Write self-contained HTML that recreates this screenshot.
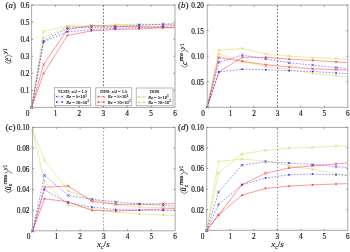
<!DOCTYPE html>
<html><head><meta charset="utf-8"><style>
html,body{margin:0;padding:0;background:#fff;width:350px;height:252px;overflow:hidden}
svg{display:block;filter:blur(0.3px)}
text{font-family:"Liberation Serif",serif;fill:#151515;stroke:#151515;stroke-width:0.15px}
text.lg{stroke-width:0.12px}
</style></head><body>
<svg width="350" height="252" viewBox="0 0 350 252">
<polyline points="31.6,107.4 43.55,38 67.45,26.5 91.35,26.5 115.25,25.4 139.15,25 163.05,24.8 175,24.7" fill="none" stroke="#d4d456" stroke-width="0.5"/>
<rect x="30.8" y="106.6" width="1.6" height="1.6" fill="#d4d456"/>
<rect x="42.75" y="37.2" width="1.6" height="1.6" fill="#d4d456"/>
<rect x="66.65" y="25.7" width="1.6" height="1.6" fill="#d4d456"/>
<rect x="90.55" y="25.7" width="1.6" height="1.6" fill="#d4d456"/>
<rect x="114.45" y="24.6" width="1.6" height="1.6" fill="#d4d456"/>
<rect x="138.35" y="24.2" width="1.6" height="1.6" fill="#d4d456"/>
<rect x="162.25" y="24" width="1.6" height="1.6" fill="#d4d456"/>
<polyline points="31.6,107.4 43.55,31.4 67.45,25.8 91.35,26.1 115.25,24.6 139.15,24.2 163.05,24.2 175,24.2" fill="none" stroke="#d4d456" stroke-width="0.5"/>
<path d="M30.4 106.2L32.8 108.6M30.4 108.6L32.8 106.2" stroke="#d4d456" stroke-width="0.7" fill="none"/>
<path d="M42.35 30.2L44.75 32.6M42.35 32.6L44.75 30.2" stroke="#d4d456" stroke-width="0.7" fill="none"/>
<path d="M66.25 24.6L68.65 27M66.25 27L68.65 24.6" stroke="#d4d456" stroke-width="0.7" fill="none"/>
<path d="M90.15 24.9L92.55 27.3M90.15 27.3L92.55 24.9" stroke="#d4d456" stroke-width="0.7" fill="none"/>
<path d="M114.05 23.4L116.45 25.8M114.05 25.8L116.45 23.4" stroke="#d4d456" stroke-width="0.7" fill="none"/>
<path d="M137.95 23L140.35 25.4M137.95 25.4L140.35 23" stroke="#d4d456" stroke-width="0.7" fill="none"/>
<path d="M161.85 23L164.25 25.4M161.85 25.4L164.25 23" stroke="#d4d456" stroke-width="0.7" fill="none"/>
<polyline points="31.6,107.4 43.55,73.5 67.45,35.4 91.35,30.9 115.25,29.5 139.15,29 163.05,27.7 175,27.05" fill="none" stroke="#ff3030" stroke-width="0.5"/>
<rect x="30.8" y="106.6" width="1.6" height="1.6" fill="#ff3030"/>
<rect x="42.75" y="72.7" width="1.6" height="1.6" fill="#ff3030"/>
<rect x="66.65" y="34.6" width="1.6" height="1.6" fill="#ff3030"/>
<rect x="90.55" y="30.1" width="1.6" height="1.6" fill="#ff3030"/>
<rect x="114.45" y="28.7" width="1.6" height="1.6" fill="#ff3030"/>
<rect x="138.35" y="28.2" width="1.6" height="1.6" fill="#ff3030"/>
<rect x="162.25" y="26.9" width="1.6" height="1.6" fill="#ff3030"/>
<polyline points="31.6,107.4 43.55,64.5 67.45,29.4 91.35,25.6 115.25,26.3 139.15,26.5 163.05,27.5 175,28" fill="none" stroke="#ff3030" stroke-width="0.5"/>
<path d="M30.4 106.2L32.8 108.6M30.4 108.6L32.8 106.2" stroke="#ff3030" stroke-width="0.7" fill="none"/>
<path d="M42.35 63.3L44.75 65.7M42.35 65.7L44.75 63.3" stroke="#ff3030" stroke-width="0.7" fill="none"/>
<path d="M66.25 28.2L68.65 30.6M66.25 30.6L68.65 28.2" stroke="#ff3030" stroke-width="0.7" fill="none"/>
<path d="M90.15 24.4L92.55 26.8M90.15 26.8L92.55 24.4" stroke="#ff3030" stroke-width="0.7" fill="none"/>
<path d="M114.05 25.1L116.45 27.5M114.05 27.5L116.45 25.1" stroke="#ff3030" stroke-width="0.7" fill="none"/>
<path d="M137.95 25.3L140.35 27.7M137.95 27.7L140.35 25.3" stroke="#ff3030" stroke-width="0.7" fill="none"/>
<path d="M161.85 26.3L164.25 28.7M161.85 28.7L164.25 26.3" stroke="#ff3030" stroke-width="0.7" fill="none"/>
<polyline points="31.6,107.4 43.55,42 67.45,31.8 91.35,29.6 115.25,28.3 139.15,27.7 163.05,26.3 175,25.6" fill="none" stroke="#2626ff" stroke-width="0.5" stroke-dasharray="1.7 1.5"/>
<rect x="30.8" y="106.6" width="1.6" height="1.6" fill="#2626ff"/>
<rect x="42.75" y="41.2" width="1.6" height="1.6" fill="#2626ff"/>
<rect x="66.65" y="31" width="1.6" height="1.6" fill="#2626ff"/>
<rect x="90.55" y="28.8" width="1.6" height="1.6" fill="#2626ff"/>
<rect x="114.45" y="27.5" width="1.6" height="1.6" fill="#2626ff"/>
<rect x="138.35" y="26.9" width="1.6" height="1.6" fill="#2626ff"/>
<rect x="162.25" y="25.5" width="1.6" height="1.6" fill="#2626ff"/>
<polyline points="31.6,107.4 43.55,41.1 67.45,28 91.35,27.5 115.25,27.1 139.15,25.1 163.05,24.2 175,23.75" fill="none" stroke="#2626ff" stroke-width="0.5" stroke-dasharray="1.7 1.5"/>
<path d="M30.4 106.2L32.8 108.6M30.4 108.6L32.8 106.2" stroke="#2626ff" stroke-width="0.7" fill="none"/>
<path d="M42.35 39.9L44.75 42.3M42.35 42.3L44.75 39.9" stroke="#2626ff" stroke-width="0.7" fill="none"/>
<path d="M66.25 26.8L68.65 29.2M66.25 29.2L68.65 26.8" stroke="#2626ff" stroke-width="0.7" fill="none"/>
<path d="M90.15 26.3L92.55 28.7M90.15 28.7L92.55 26.3" stroke="#2626ff" stroke-width="0.7" fill="none"/>
<path d="M114.05 25.9L116.45 28.3M114.05 28.3L116.45 25.9" stroke="#2626ff" stroke-width="0.7" fill="none"/>
<path d="M137.95 23.9L140.35 26.3M137.95 26.3L140.35 23.9" stroke="#2626ff" stroke-width="0.7" fill="none"/>
<path d="M161.85 23L164.25 25.4M161.85 25.4L164.25 23" stroke="#2626ff" stroke-width="0.7" fill="none"/>
<line x1="103.5" y1="5.1" x2="103.5" y2="107.4" stroke="#606060" stroke-width="0.9" stroke-dasharray="1.6 1.85" stroke-dashoffset="0"/>
<rect x="31.6" y="5.1" width="143.4" height="102.3" fill="none" stroke="#a8a8a8" stroke-width="1"/>
<line x1="55.5" y1="107.4" x2="55.5" y2="105.9" stroke="#666" stroke-width="0.7"/>
<line x1="55.5" y1="5.1" x2="55.5" y2="6.6" stroke="#666" stroke-width="0.7"/>
<line x1="79.4" y1="107.4" x2="79.4" y2="105.9" stroke="#666" stroke-width="0.7"/>
<line x1="79.4" y1="5.1" x2="79.4" y2="6.6" stroke="#666" stroke-width="0.7"/>
<line x1="103.3" y1="107.4" x2="103.3" y2="105.9" stroke="#666" stroke-width="0.7"/>
<line x1="103.3" y1="5.1" x2="103.3" y2="6.6" stroke="#666" stroke-width="0.7"/>
<line x1="127.2" y1="107.4" x2="127.2" y2="105.9" stroke="#666" stroke-width="0.7"/>
<line x1="127.2" y1="5.1" x2="127.2" y2="6.6" stroke="#666" stroke-width="0.7"/>
<line x1="151.1" y1="107.4" x2="151.1" y2="105.9" stroke="#666" stroke-width="0.7"/>
<line x1="151.1" y1="5.1" x2="151.1" y2="6.6" stroke="#666" stroke-width="0.7"/>
<line x1="31.6" y1="90.35" x2="33.1" y2="90.35" stroke="#666" stroke-width="0.7"/>
<line x1="175" y1="90.35" x2="173.5" y2="90.35" stroke="#666" stroke-width="0.7"/>
<text x="29.5" y="93.25" font-size="7.3" text-anchor="end">0.1</text>
<line x1="31.6" y1="73.3" x2="33.1" y2="73.3" stroke="#666" stroke-width="0.7"/>
<line x1="175" y1="73.3" x2="173.5" y2="73.3" stroke="#666" stroke-width="0.7"/>
<text x="29.5" y="76.2" font-size="7.3" text-anchor="end">0.2</text>
<line x1="31.6" y1="56.25" x2="33.1" y2="56.25" stroke="#666" stroke-width="0.7"/>
<line x1="175" y1="56.25" x2="173.5" y2="56.25" stroke="#666" stroke-width="0.7"/>
<text x="29.5" y="59.15" font-size="7.3" text-anchor="end">0.3</text>
<line x1="31.6" y1="39.2" x2="33.1" y2="39.2" stroke="#666" stroke-width="0.7"/>
<line x1="175" y1="39.2" x2="173.5" y2="39.2" stroke="#666" stroke-width="0.7"/>
<text x="29.5" y="42.1" font-size="7.3" text-anchor="end">0.4</text>
<line x1="31.6" y1="22.15" x2="33.1" y2="22.15" stroke="#666" stroke-width="0.7"/>
<line x1="175" y1="22.15" x2="173.5" y2="22.15" stroke="#666" stroke-width="0.7"/>
<text x="29.5" y="25.05" font-size="7.3" text-anchor="end">0.5</text>
<line x1="31.6" y1="5.1" x2="33.1" y2="5.1" stroke="#666" stroke-width="0.7"/>
<line x1="175" y1="5.1" x2="173.5" y2="5.1" stroke="#666" stroke-width="0.7"/>
<text x="29.5" y="8" font-size="7.3" text-anchor="end">0.6</text>
<text x="55.5" y="115.6" font-size="7.3" text-anchor="middle">1</text>
<text x="79.4" y="115.6" font-size="7.3" text-anchor="middle">2</text>
<text x="103.3" y="115.6" font-size="7.3" text-anchor="middle">3</text>
<text x="127.2" y="115.6" font-size="7.3" text-anchor="middle">4</text>
<text x="151.1" y="115.6" font-size="7.3" text-anchor="middle">5</text>
<text x="175" y="115.6" font-size="7.3" text-anchor="middle">6</text>
<text x="27.6" y="115.6" font-size="7.3" text-anchor="middle">0</text>
<text x="5.4" y="7.5" font-size="9">(<tspan font-style="italic">a</tspan>)</text>
<polyline points="207.2,107.1 218.92,54 242.35,61.3 265.78,66.5 289.22,69.5 312.65,73.5 336.08,75.7 347.8,76.8" fill="none" stroke="#d4d456" stroke-width="0.5"/>
<rect x="206.4" y="106.3" width="1.6" height="1.6" fill="#d4d456"/>
<rect x="218.12" y="53.2" width="1.6" height="1.6" fill="#d4d456"/>
<rect x="241.55" y="60.5" width="1.6" height="1.6" fill="#d4d456"/>
<rect x="264.98" y="65.7" width="1.6" height="1.6" fill="#d4d456"/>
<rect x="288.42" y="68.7" width="1.6" height="1.6" fill="#d4d456"/>
<rect x="311.85" y="72.7" width="1.6" height="1.6" fill="#d4d456"/>
<rect x="335.28" y="74.9" width="1.6" height="1.6" fill="#d4d456"/>
<polyline points="207.2,107.1 218.92,50.1 242.35,48.6 265.78,54 289.22,56.1 312.65,57.7 336.08,58.6 347.8,59.05" fill="none" stroke="#d4d456" stroke-width="0.5"/>
<path d="M206 105.9L208.4 108.3M206 108.3L208.4 105.9" stroke="#d4d456" stroke-width="0.7" fill="none"/>
<path d="M217.72 48.9L220.12 51.3M217.72 51.3L220.12 48.9" stroke="#d4d456" stroke-width="0.7" fill="none"/>
<path d="M241.15 47.4L243.55 49.8M241.15 49.8L243.55 47.4" stroke="#d4d456" stroke-width="0.7" fill="none"/>
<path d="M264.58 52.8L266.98 55.2M264.58 55.2L266.98 52.8" stroke="#d4d456" stroke-width="0.7" fill="none"/>
<path d="M288.02 54.9L290.42 57.3M288.02 57.3L290.42 54.9" stroke="#d4d456" stroke-width="0.7" fill="none"/>
<path d="M311.45 56.5L313.85 58.9M311.45 58.9L313.85 56.5" stroke="#d4d456" stroke-width="0.7" fill="none"/>
<path d="M334.88 57.4L337.28 59.8M334.88 59.8L337.28 57.4" stroke="#d4d456" stroke-width="0.7" fill="none"/>
<polyline points="207.2,107.1 218.92,72 242.35,57.3 265.78,57.2 289.22,59.2 312.65,60.4 336.08,61.9 347.8,62.65" fill="none" stroke="#ff3030" stroke-width="0.5"/>
<rect x="206.4" y="106.3" width="1.6" height="1.6" fill="#ff3030"/>
<rect x="218.12" y="71.2" width="1.6" height="1.6" fill="#ff3030"/>
<rect x="241.55" y="56.5" width="1.6" height="1.6" fill="#ff3030"/>
<rect x="264.98" y="56.4" width="1.6" height="1.6" fill="#ff3030"/>
<rect x="288.42" y="58.4" width="1.6" height="1.6" fill="#ff3030"/>
<rect x="311.85" y="59.6" width="1.6" height="1.6" fill="#ff3030"/>
<rect x="335.28" y="61.1" width="1.6" height="1.6" fill="#ff3030"/>
<polyline points="207.2,107.1 218.92,57.5 242.35,61.4 265.78,64.7 289.22,67 312.65,68.8 336.08,69.7 347.8,70.15" fill="none" stroke="#ff3030" stroke-width="0.5"/>
<path d="M206 105.9L208.4 108.3M206 108.3L208.4 105.9" stroke="#ff3030" stroke-width="0.7" fill="none"/>
<path d="M217.72 56.3L220.12 58.7M217.72 58.7L220.12 56.3" stroke="#ff3030" stroke-width="0.7" fill="none"/>
<path d="M241.15 60.2L243.55 62.6M241.15 62.6L243.55 60.2" stroke="#ff3030" stroke-width="0.7" fill="none"/>
<path d="M264.58 63.5L266.98 65.9M264.58 65.9L266.98 63.5" stroke="#ff3030" stroke-width="0.7" fill="none"/>
<path d="M288.02 65.8L290.42 68.2M288.02 68.2L290.42 65.8" stroke="#ff3030" stroke-width="0.7" fill="none"/>
<path d="M311.45 67.6L313.85 70M311.45 70L313.85 67.6" stroke="#ff3030" stroke-width="0.7" fill="none"/>
<path d="M334.88 68.5L337.28 70.9M334.88 70.9L337.28 68.5" stroke="#ff3030" stroke-width="0.7" fill="none"/>
<polyline points="207.2,107.1 218.92,71.9 242.35,69.2 265.78,69.7 289.22,70.7 312.65,71.5 336.08,73 347.8,73.75" fill="none" stroke="#2626ff" stroke-width="0.5" stroke-dasharray="1.7 1.5"/>
<rect x="206.4" y="106.3" width="1.6" height="1.6" fill="#2626ff"/>
<rect x="218.12" y="71.1" width="1.6" height="1.6" fill="#2626ff"/>
<rect x="241.55" y="68.4" width="1.6" height="1.6" fill="#2626ff"/>
<rect x="264.98" y="68.9" width="1.6" height="1.6" fill="#2626ff"/>
<rect x="288.42" y="69.9" width="1.6" height="1.6" fill="#2626ff"/>
<rect x="311.85" y="70.7" width="1.6" height="1.6" fill="#2626ff"/>
<rect x="335.28" y="72.2" width="1.6" height="1.6" fill="#2626ff"/>
<polyline points="207.2,107.1 218.92,62.3 242.35,55.2 265.78,58.9 289.22,62.8 312.65,65.1 336.08,67.5 347.8,68.7" fill="none" stroke="#2626ff" stroke-width="0.5" stroke-dasharray="1.7 1.5"/>
<path d="M206 105.9L208.4 108.3M206 108.3L208.4 105.9" stroke="#2626ff" stroke-width="0.7" fill="none"/>
<path d="M217.72 61.1L220.12 63.5M217.72 63.5L220.12 61.1" stroke="#2626ff" stroke-width="0.7" fill="none"/>
<path d="M241.15 54L243.55 56.4M241.15 56.4L243.55 54" stroke="#2626ff" stroke-width="0.7" fill="none"/>
<path d="M264.58 57.7L266.98 60.1M264.58 60.1L266.98 57.7" stroke="#2626ff" stroke-width="0.7" fill="none"/>
<path d="M288.02 61.6L290.42 64M288.02 64L290.42 61.6" stroke="#2626ff" stroke-width="0.7" fill="none"/>
<path d="M311.45 63.9L313.85 66.3M311.45 66.3L313.85 63.9" stroke="#2626ff" stroke-width="0.7" fill="none"/>
<path d="M334.88 66.3L337.28 68.7M334.88 68.7L337.28 66.3" stroke="#2626ff" stroke-width="0.7" fill="none"/>
<line x1="277.5" y1="5.1" x2="277.5" y2="107.3" stroke="#606060" stroke-width="0.9" stroke-dasharray="1.6 1.85" stroke-dashoffset="-0.2"/>
<rect x="207.2" y="5.1" width="140.6" height="102.2" fill="none" stroke="#a8a8a8" stroke-width="1"/>
<line x1="230.63" y1="107.3" x2="230.63" y2="105.8" stroke="#666" stroke-width="0.7"/>
<line x1="230.63" y1="5.1" x2="230.63" y2="6.6" stroke="#666" stroke-width="0.7"/>
<line x1="254.07" y1="107.3" x2="254.07" y2="105.8" stroke="#666" stroke-width="0.7"/>
<line x1="254.07" y1="5.1" x2="254.07" y2="6.6" stroke="#666" stroke-width="0.7"/>
<line x1="277.5" y1="107.3" x2="277.5" y2="105.8" stroke="#666" stroke-width="0.7"/>
<line x1="277.5" y1="5.1" x2="277.5" y2="6.6" stroke="#666" stroke-width="0.7"/>
<line x1="300.93" y1="107.3" x2="300.93" y2="105.8" stroke="#666" stroke-width="0.7"/>
<line x1="300.93" y1="5.1" x2="300.93" y2="6.6" stroke="#666" stroke-width="0.7"/>
<line x1="324.37" y1="107.3" x2="324.37" y2="105.8" stroke="#666" stroke-width="0.7"/>
<line x1="324.37" y1="5.1" x2="324.37" y2="6.6" stroke="#666" stroke-width="0.7"/>
<line x1="207.2" y1="81.75" x2="208.7" y2="81.75" stroke="#666" stroke-width="0.7"/>
<line x1="347.8" y1="81.75" x2="346.3" y2="81.75" stroke="#666" stroke-width="0.7"/>
<text x="204" y="84.65" font-size="7.3" text-anchor="end">0.05</text>
<line x1="207.2" y1="56.2" x2="208.7" y2="56.2" stroke="#666" stroke-width="0.7"/>
<line x1="347.8" y1="56.2" x2="346.3" y2="56.2" stroke="#666" stroke-width="0.7"/>
<text x="204" y="59.1" font-size="7.3" text-anchor="end">0.10</text>
<line x1="207.2" y1="30.65" x2="208.7" y2="30.65" stroke="#666" stroke-width="0.7"/>
<line x1="347.8" y1="30.65" x2="346.3" y2="30.65" stroke="#666" stroke-width="0.7"/>
<text x="204" y="33.55" font-size="7.3" text-anchor="end">0.15</text>
<line x1="207.2" y1="5.1" x2="208.7" y2="5.1" stroke="#666" stroke-width="0.7"/>
<line x1="347.8" y1="5.1" x2="346.3" y2="5.1" stroke="#666" stroke-width="0.7"/>
<text x="204" y="8" font-size="7.3" text-anchor="end">0.20</text>
<text x="230.63" y="115.5" font-size="7.3" text-anchor="middle">1</text>
<text x="254.07" y="115.5" font-size="7.3" text-anchor="middle">2</text>
<text x="277.5" y="115.5" font-size="7.3" text-anchor="middle">3</text>
<text x="300.93" y="115.5" font-size="7.3" text-anchor="middle">4</text>
<text x="324.37" y="115.5" font-size="7.3" text-anchor="middle">5</text>
<text x="347.8" y="115.5" font-size="7.3" text-anchor="middle">6</text>
<text x="203.2" y="115.5" font-size="7.3" text-anchor="middle">0</text>
<text x="178.1" y="7.5" font-size="9">(<tspan font-style="italic">b</tspan>)</text>
<polyline points="32.6,130 44.48,181.7 68.22,205.4 91.97,208.5 115.72,212.1 139.47,214 163.22,215 175.1,215.5" fill="none" stroke="#d4d456" stroke-width="0.5"/>
<rect x="31.8" y="129.2" width="1.6" height="1.6" fill="#d4d456"/>
<rect x="43.68" y="180.9" width="1.6" height="1.6" fill="#d4d456"/>
<rect x="67.42" y="204.6" width="1.6" height="1.6" fill="#d4d456"/>
<rect x="91.17" y="207.7" width="1.6" height="1.6" fill="#d4d456"/>
<rect x="114.92" y="211.3" width="1.6" height="1.6" fill="#d4d456"/>
<rect x="138.67" y="213.2" width="1.6" height="1.6" fill="#d4d456"/>
<rect x="162.42" y="214.2" width="1.6" height="1.6" fill="#d4d456"/>
<polyline points="32.6,130 44.48,160 68.22,191 91.97,199.4 115.72,204.3 139.47,207.2 163.22,207.5 175.1,207.65" fill="none" stroke="#d4d456" stroke-width="0.5"/>
<path d="M31.4 128.8L33.8 131.2M31.4 131.2L33.8 128.8" stroke="#d4d456" stroke-width="0.7" fill="none"/>
<path d="M43.27 158.8L45.68 161.2M43.27 161.2L45.68 158.8" stroke="#d4d456" stroke-width="0.7" fill="none"/>
<path d="M67.02 189.8L69.42 192.2M67.02 192.2L69.42 189.8" stroke="#d4d456" stroke-width="0.7" fill="none"/>
<path d="M90.77 198.2L93.17 200.6M90.77 200.6L93.17 198.2" stroke="#d4d456" stroke-width="0.7" fill="none"/>
<path d="M114.52 203.1L116.92 205.5M114.52 205.5L116.92 203.1" stroke="#d4d456" stroke-width="0.7" fill="none"/>
<path d="M138.28 206L140.67 208.4M138.28 208.4L140.67 206" stroke="#d4d456" stroke-width="0.7" fill="none"/>
<path d="M162.03 206.3L164.42 208.7M162.03 208.7L164.42 206.3" stroke="#d4d456" stroke-width="0.7" fill="none"/>
<polyline points="32.6,231 44.48,198.8 68.22,201.8 91.97,210.4 115.72,211 139.47,210.1 163.22,209 175.1,208.45" fill="none" stroke="#ff3030" stroke-width="0.5"/>
<rect x="31.8" y="230.2" width="1.6" height="1.6" fill="#ff3030"/>
<rect x="43.68" y="198" width="1.6" height="1.6" fill="#ff3030"/>
<rect x="67.42" y="201" width="1.6" height="1.6" fill="#ff3030"/>
<rect x="91.17" y="209.6" width="1.6" height="1.6" fill="#ff3030"/>
<rect x="114.92" y="210.2" width="1.6" height="1.6" fill="#ff3030"/>
<rect x="138.67" y="209.3" width="1.6" height="1.6" fill="#ff3030"/>
<rect x="162.42" y="208.2" width="1.6" height="1.6" fill="#ff3030"/>
<polyline points="32.6,231 44.48,187.2 68.22,186 91.97,201.4 115.72,204.3 139.47,204.3 163.22,203.8 175.1,203.55" fill="none" stroke="#ff3030" stroke-width="0.5"/>
<path d="M31.4 229.8L33.8 232.2M31.4 232.2L33.8 229.8" stroke="#ff3030" stroke-width="0.7" fill="none"/>
<path d="M43.27 186L45.68 188.4M43.27 188.4L45.68 186" stroke="#ff3030" stroke-width="0.7" fill="none"/>
<path d="M67.02 184.8L69.42 187.2M67.02 187.2L69.42 184.8" stroke="#ff3030" stroke-width="0.7" fill="none"/>
<path d="M90.77 200.2L93.17 202.6M90.77 202.6L93.17 200.2" stroke="#ff3030" stroke-width="0.7" fill="none"/>
<path d="M114.52 203.1L116.92 205.5M114.52 205.5L116.92 203.1" stroke="#ff3030" stroke-width="0.7" fill="none"/>
<path d="M138.28 203.1L140.67 205.5M138.28 205.5L140.67 203.1" stroke="#ff3030" stroke-width="0.7" fill="none"/>
<path d="M162.03 202.6L164.42 205M162.03 205L164.42 202.6" stroke="#ff3030" stroke-width="0.7" fill="none"/>
<polyline points="32.6,231 44.48,189.6 68.22,203 91.97,207.1 115.72,209.6 139.47,210.1 163.22,210.4 175.1,210.55" fill="none" stroke="#2626ff" stroke-width="0.5" stroke-dasharray="1.7 1.5"/>
<rect x="31.8" y="230.2" width="1.6" height="1.6" fill="#2626ff"/>
<rect x="43.68" y="188.8" width="1.6" height="1.6" fill="#2626ff"/>
<rect x="67.42" y="202.2" width="1.6" height="1.6" fill="#2626ff"/>
<rect x="91.17" y="206.3" width="1.6" height="1.6" fill="#2626ff"/>
<rect x="114.92" y="208.8" width="1.6" height="1.6" fill="#2626ff"/>
<rect x="138.67" y="209.3" width="1.6" height="1.6" fill="#2626ff"/>
<rect x="162.42" y="209.6" width="1.6" height="1.6" fill="#2626ff"/>
<polyline points="32.6,231 44.48,175.3 68.22,195.5 91.97,199.3 115.72,201.9 139.47,203.8 163.22,205.3 175.1,206.05" fill="none" stroke="#2626ff" stroke-width="0.5" stroke-dasharray="1.7 1.5"/>
<path d="M31.4 229.8L33.8 232.2M31.4 232.2L33.8 229.8" stroke="#2626ff" stroke-width="0.7" fill="none"/>
<path d="M43.27 174.1L45.68 176.5M43.27 176.5L45.68 174.1" stroke="#2626ff" stroke-width="0.7" fill="none"/>
<path d="M67.02 194.3L69.42 196.7M67.02 196.7L69.42 194.3" stroke="#2626ff" stroke-width="0.7" fill="none"/>
<path d="M90.77 198.1L93.17 200.5M90.77 200.5L93.17 198.1" stroke="#2626ff" stroke-width="0.7" fill="none"/>
<path d="M114.52 200.7L116.92 203.1M114.52 203.1L116.92 200.7" stroke="#2626ff" stroke-width="0.7" fill="none"/>
<path d="M138.28 202.6L140.67 205M138.28 205L140.67 202.6" stroke="#2626ff" stroke-width="0.7" fill="none"/>
<path d="M162.03 204.1L164.42 206.5M162.03 206.5L164.42 204.1" stroke="#2626ff" stroke-width="0.7" fill="none"/>
<line x1="103.5" y1="127.4" x2="103.5" y2="230.8" stroke="#9a9a9a" stroke-width="0.9" stroke-dasharray="1.6 1.85" stroke-dashoffset="-0.05"/>
<rect x="32.6" y="127.4" width="142.5" height="103.4" fill="none" stroke="#a8a8a8" stroke-width="1"/>
<line x1="56.35" y1="230.8" x2="56.35" y2="229.3" stroke="#666" stroke-width="0.7"/>
<line x1="56.35" y1="127.4" x2="56.35" y2="128.9" stroke="#666" stroke-width="0.7"/>
<line x1="80.1" y1="230.8" x2="80.1" y2="229.3" stroke="#666" stroke-width="0.7"/>
<line x1="80.1" y1="127.4" x2="80.1" y2="128.9" stroke="#666" stroke-width="0.7"/>
<line x1="103.85" y1="230.8" x2="103.85" y2="229.3" stroke="#666" stroke-width="0.7"/>
<line x1="103.85" y1="127.4" x2="103.85" y2="128.9" stroke="#666" stroke-width="0.7"/>
<line x1="127.6" y1="230.8" x2="127.6" y2="229.3" stroke="#666" stroke-width="0.7"/>
<line x1="127.6" y1="127.4" x2="127.6" y2="128.9" stroke="#666" stroke-width="0.7"/>
<line x1="151.35" y1="230.8" x2="151.35" y2="229.3" stroke="#666" stroke-width="0.7"/>
<line x1="151.35" y1="127.4" x2="151.35" y2="128.9" stroke="#666" stroke-width="0.7"/>
<line x1="32.6" y1="210.12" x2="34.1" y2="210.12" stroke="#666" stroke-width="0.7"/>
<line x1="175.1" y1="210.12" x2="173.6" y2="210.12" stroke="#666" stroke-width="0.7"/>
<text x="29.5" y="213.02" font-size="7.3" text-anchor="end">0.02</text>
<line x1="32.6" y1="189.44" x2="34.1" y2="189.44" stroke="#666" stroke-width="0.7"/>
<line x1="175.1" y1="189.44" x2="173.6" y2="189.44" stroke="#666" stroke-width="0.7"/>
<text x="29.5" y="192.34" font-size="7.3" text-anchor="end">0.04</text>
<line x1="32.6" y1="168.76" x2="34.1" y2="168.76" stroke="#666" stroke-width="0.7"/>
<line x1="175.1" y1="168.76" x2="173.6" y2="168.76" stroke="#666" stroke-width="0.7"/>
<text x="29.5" y="171.66" font-size="7.3" text-anchor="end">0.06</text>
<line x1="32.6" y1="148.08" x2="34.1" y2="148.08" stroke="#666" stroke-width="0.7"/>
<line x1="175.1" y1="148.08" x2="173.6" y2="148.08" stroke="#666" stroke-width="0.7"/>
<text x="29.5" y="150.98" font-size="7.3" text-anchor="end">0.08</text>
<line x1="32.6" y1="127.4" x2="34.1" y2="127.4" stroke="#666" stroke-width="0.7"/>
<line x1="175.1" y1="127.4" x2="173.6" y2="127.4" stroke="#666" stroke-width="0.7"/>
<text x="29.5" y="130.3" font-size="7.3" text-anchor="end">0.10</text>
<text x="56.35" y="239" font-size="7.3" text-anchor="middle">1</text>
<text x="80.1" y="239" font-size="7.3" text-anchor="middle">2</text>
<text x="103.85" y="239" font-size="7.3" text-anchor="middle">3</text>
<text x="127.6" y="239" font-size="7.3" text-anchor="middle">4</text>
<text x="151.35" y="239" font-size="7.3" text-anchor="middle">5</text>
<text x="175.1" y="239" font-size="7.3" text-anchor="middle">6</text>
<text x="28.6" y="239" font-size="7.3" text-anchor="middle">0</text>
<text x="5.5" y="129.8" font-size="9">(<tspan font-style="italic">c</tspan>)</text>
<polyline points="206.7,230.5 218.46,161.5 241.97,159 265.49,161 289.01,165.8 312.52,169.3 336.04,173.5 347.8,175.6" fill="none" stroke="#d4d456" stroke-width="0.5"/>
<rect x="205.9" y="229.7" width="1.6" height="1.6" fill="#d4d456"/>
<rect x="217.66" y="160.7" width="1.6" height="1.6" fill="#d4d456"/>
<rect x="241.17" y="158.2" width="1.6" height="1.6" fill="#d4d456"/>
<rect x="264.69" y="160.2" width="1.6" height="1.6" fill="#d4d456"/>
<rect x="288.21" y="165" width="1.6" height="1.6" fill="#d4d456"/>
<rect x="311.72" y="168.5" width="1.6" height="1.6" fill="#d4d456"/>
<rect x="335.24" y="172.7" width="1.6" height="1.6" fill="#d4d456"/>
<polyline points="206.7,230.5 218.46,173 241.97,154.2 265.49,150.3 289.01,148.2 312.52,147.3 336.04,146.25 347.8,145.72" fill="none" stroke="#d4d456" stroke-width="0.5"/>
<path d="M205.5 229.3L207.9 231.7M205.5 231.7L207.9 229.3" stroke="#d4d456" stroke-width="0.7" fill="none"/>
<path d="M217.26 171.8L219.66 174.2M217.26 174.2L219.66 171.8" stroke="#d4d456" stroke-width="0.7" fill="none"/>
<path d="M240.78 153L243.17 155.4M240.78 155.4L243.17 153" stroke="#d4d456" stroke-width="0.7" fill="none"/>
<path d="M264.29 149.1L266.69 151.5M264.29 151.5L266.69 149.1" stroke="#d4d456" stroke-width="0.7" fill="none"/>
<path d="M287.81 147L290.21 149.4M287.81 149.4L290.21 147" stroke="#d4d456" stroke-width="0.7" fill="none"/>
<path d="M311.32 146.1L313.72 148.5M311.32 148.5L313.72 146.1" stroke="#d4d456" stroke-width="0.7" fill="none"/>
<path d="M334.84 145.05L337.24 147.45M334.84 147.45L337.24 145.05" stroke="#d4d456" stroke-width="0.7" fill="none"/>
<polyline points="206.7,230.5 218.46,215 241.97,195.2 265.49,188.4 289.01,186.2 312.52,184.8 336.04,184 347.8,183.6" fill="none" stroke="#ff3030" stroke-width="0.5"/>
<rect x="205.9" y="229.7" width="1.6" height="1.6" fill="#ff3030"/>
<rect x="217.66" y="214.2" width="1.6" height="1.6" fill="#ff3030"/>
<rect x="241.17" y="194.4" width="1.6" height="1.6" fill="#ff3030"/>
<rect x="264.69" y="187.6" width="1.6" height="1.6" fill="#ff3030"/>
<rect x="288.21" y="185.4" width="1.6" height="1.6" fill="#ff3030"/>
<rect x="311.72" y="184" width="1.6" height="1.6" fill="#ff3030"/>
<rect x="335.24" y="183.2" width="1.6" height="1.6" fill="#ff3030"/>
<polyline points="206.7,230.5 218.46,215 241.97,184.7 265.49,173.2 289.01,168 312.52,165.8 336.04,163.9 347.8,162.95" fill="none" stroke="#ff3030" stroke-width="0.5"/>
<path d="M205.5 229.3L207.9 231.7M205.5 231.7L207.9 229.3" stroke="#ff3030" stroke-width="0.7" fill="none"/>
<path d="M217.26 213.8L219.66 216.2M217.26 216.2L219.66 213.8" stroke="#ff3030" stroke-width="0.7" fill="none"/>
<path d="M240.78 183.5L243.17 185.9M240.78 185.9L243.17 183.5" stroke="#ff3030" stroke-width="0.7" fill="none"/>
<path d="M264.29 172L266.69 174.4M264.29 174.4L266.69 172" stroke="#ff3030" stroke-width="0.7" fill="none"/>
<path d="M287.81 166.8L290.21 169.2M287.81 169.2L290.21 166.8" stroke="#ff3030" stroke-width="0.7" fill="none"/>
<path d="M311.32 164.6L313.72 167M311.32 167L313.72 164.6" stroke="#ff3030" stroke-width="0.7" fill="none"/>
<path d="M334.84 162.7L337.24 165.1M334.84 165.1L337.24 162.7" stroke="#ff3030" stroke-width="0.7" fill="none"/>
<polyline points="206.7,230.5 218.46,204.6 241.97,184.7 265.49,178 289.01,174.8 312.52,174 336.04,174.8 347.8,175.2" fill="none" stroke="#2626ff" stroke-width="0.5" stroke-dasharray="1.7 1.5"/>
<rect x="205.9" y="229.7" width="1.6" height="1.6" fill="#2626ff"/>
<rect x="217.66" y="203.8" width="1.6" height="1.6" fill="#2626ff"/>
<rect x="241.17" y="183.9" width="1.6" height="1.6" fill="#2626ff"/>
<rect x="264.69" y="177.2" width="1.6" height="1.6" fill="#2626ff"/>
<rect x="288.21" y="174" width="1.6" height="1.6" fill="#2626ff"/>
<rect x="311.72" y="173.2" width="1.6" height="1.6" fill="#2626ff"/>
<rect x="335.24" y="174" width="1.6" height="1.6" fill="#2626ff"/>
<polyline points="206.7,230.5 218.46,192.1 241.97,165.1 265.49,161.7 289.01,163.1 312.52,164.5 336.04,166.6 347.8,167.65" fill="none" stroke="#2626ff" stroke-width="0.5" stroke-dasharray="1.7 1.5"/>
<path d="M205.5 229.3L207.9 231.7M205.5 231.7L207.9 229.3" stroke="#2626ff" stroke-width="0.7" fill="none"/>
<path d="M217.26 190.9L219.66 193.3M217.26 193.3L219.66 190.9" stroke="#2626ff" stroke-width="0.7" fill="none"/>
<path d="M240.78 163.9L243.17 166.3M240.78 166.3L243.17 163.9" stroke="#2626ff" stroke-width="0.7" fill="none"/>
<path d="M264.29 160.5L266.69 162.9M264.29 162.9L266.69 160.5" stroke="#2626ff" stroke-width="0.7" fill="none"/>
<path d="M287.81 161.9L290.21 164.3M287.81 164.3L290.21 161.9" stroke="#2626ff" stroke-width="0.7" fill="none"/>
<path d="M311.32 163.3L313.72 165.7M311.32 165.7L313.72 163.3" stroke="#2626ff" stroke-width="0.7" fill="none"/>
<path d="M334.84 165.4L337.24 167.8M334.84 167.8L337.24 165.4" stroke="#2626ff" stroke-width="0.7" fill="none"/>
<line x1="277.5" y1="127.4" x2="277.5" y2="230.3" stroke="#8a8a8a" stroke-width="0.9" stroke-dasharray="1.6 1.85" stroke-dashoffset="-1"/>
<rect x="206.7" y="127.4" width="141.1" height="102.9" fill="none" stroke="#a8a8a8" stroke-width="1"/>
<line x1="230.22" y1="230.3" x2="230.22" y2="228.8" stroke="#666" stroke-width="0.7"/>
<line x1="230.22" y1="127.4" x2="230.22" y2="128.9" stroke="#666" stroke-width="0.7"/>
<line x1="253.73" y1="230.3" x2="253.73" y2="228.8" stroke="#666" stroke-width="0.7"/>
<line x1="253.73" y1="127.4" x2="253.73" y2="128.9" stroke="#666" stroke-width="0.7"/>
<line x1="277.25" y1="230.3" x2="277.25" y2="228.8" stroke="#666" stroke-width="0.7"/>
<line x1="277.25" y1="127.4" x2="277.25" y2="128.9" stroke="#666" stroke-width="0.7"/>
<line x1="300.77" y1="230.3" x2="300.77" y2="228.8" stroke="#666" stroke-width="0.7"/>
<line x1="300.77" y1="127.4" x2="300.77" y2="128.9" stroke="#666" stroke-width="0.7"/>
<line x1="324.28" y1="230.3" x2="324.28" y2="228.8" stroke="#666" stroke-width="0.7"/>
<line x1="324.28" y1="127.4" x2="324.28" y2="128.9" stroke="#666" stroke-width="0.7"/>
<line x1="206.7" y1="209.72" x2="208.2" y2="209.72" stroke="#666" stroke-width="0.7"/>
<line x1="347.8" y1="209.72" x2="346.3" y2="209.72" stroke="#666" stroke-width="0.7"/>
<text x="204" y="212.62" font-size="7.3" text-anchor="end">0.02</text>
<line x1="206.7" y1="189.14" x2="208.2" y2="189.14" stroke="#666" stroke-width="0.7"/>
<line x1="347.8" y1="189.14" x2="346.3" y2="189.14" stroke="#666" stroke-width="0.7"/>
<text x="204" y="192.04" font-size="7.3" text-anchor="end">0.04</text>
<line x1="206.7" y1="168.56" x2="208.2" y2="168.56" stroke="#666" stroke-width="0.7"/>
<line x1="347.8" y1="168.56" x2="346.3" y2="168.56" stroke="#666" stroke-width="0.7"/>
<text x="204" y="171.46" font-size="7.3" text-anchor="end">0.06</text>
<line x1="206.7" y1="147.98" x2="208.2" y2="147.98" stroke="#666" stroke-width="0.7"/>
<line x1="347.8" y1="147.98" x2="346.3" y2="147.98" stroke="#666" stroke-width="0.7"/>
<text x="204" y="150.88" font-size="7.3" text-anchor="end">0.08</text>
<line x1="206.7" y1="127.4" x2="208.2" y2="127.4" stroke="#666" stroke-width="0.7"/>
<line x1="347.8" y1="127.4" x2="346.3" y2="127.4" stroke="#666" stroke-width="0.7"/>
<text x="204" y="130.3" font-size="7.3" text-anchor="end">0.10</text>
<text x="230.22" y="238.5" font-size="7.3" text-anchor="middle">1</text>
<text x="253.73" y="238.5" font-size="7.3" text-anchor="middle">2</text>
<text x="277.25" y="238.5" font-size="7.3" text-anchor="middle">3</text>
<text x="300.77" y="238.5" font-size="7.3" text-anchor="middle">4</text>
<text x="324.28" y="238.5" font-size="7.3" text-anchor="middle">5</text>
<text x="347.8" y="238.5" font-size="7.3" text-anchor="middle">6</text>
<text x="202.7" y="238.5" font-size="7.3" text-anchor="middle">0</text>
<text x="178.1" y="129.8" font-size="9">(<tspan font-style="italic">d</tspan>)</text>
<g transform="translate(10.6,64) rotate(-90) scale(1)"><path d="M2.54 -5.76L0.3 -2L2.54 1.76" fill="none" stroke="#151515" stroke-width="0.55"/><text x="2.5" y="0" font-size="8" font-style="italic">c̃</text><path d="M6.8 -5.76L9.04 -2L6.8 1.76" fill="none" stroke="#151515" stroke-width="0.55"/><text x="10.2" y="-3.6" font-size="5.4" font-style="italic">y</text><text x="12.8" y="-3.6" font-size="5.4">1</text></g>
<g transform="translate(186.6,67.7) rotate(-90) scale(1)"><path d="M2.54 -5.76L0.3 -2L2.54 1.76" fill="none" stroke="#151515" stroke-width="0.55"/><text x="2.6" y="0" font-size="8" font-style="italic">c</text><text x="6.4" y="-3.2" font-size="5.6">rms</text><path d="M15.8 -5.76L18.04 -2L15.8 1.76" fill="none" stroke="#151515" stroke-width="0.55"/><text x="18.8" y="-3" font-size="5.6" font-style="italic">y</text><text x="21.4" y="-3" font-size="5.6">1</text></g>
<g transform="translate(10.6,193) rotate(-90) scale(1)"><path d="M2.54 -5.76L0.3 -2L2.54 1.76" fill="none" stroke="#151515" stroke-width="0.55"/><text x="2.6" y="0" font-size="8" font-style="italic">ũ</text><text x="6.8" y="1.8" font-size="5.6" font-style="italic">x</text><text x="8.4" y="-3.4" font-size="6.6">rms</text><path d="M19.6 -5.76L21.84 -2L19.6 1.76" fill="none" stroke="#151515" stroke-width="0.55"/><text x="23" y="-3.4" font-size="5.6" font-style="italic">y</text><text x="25.6" y="-3.4" font-size="5.6">1</text></g>
<g transform="translate(186.3,194) rotate(-90) scale(1)"><path d="M2.54 -5.76L0.3 -2L2.54 1.76" fill="none" stroke="#151515" stroke-width="0.55"/><text x="2.6" y="0" font-size="8" font-style="italic">ũ</text><text x="6.8" y="1.8" font-size="5.6" font-style="italic">z</text><text x="8.4" y="-3.4" font-size="6.6">rms</text><path d="M19.6 -5.76L21.84 -2L19.6 1.76" fill="none" stroke="#151515" stroke-width="0.55"/><text x="23" y="-3.4" font-size="5.6" font-style="italic">y</text><text x="25.6" y="-3.4" font-size="5.6">1</text></g>
<text x="103.3" y="247.4" font-size="9" text-anchor="middle"><tspan font-style="italic">x</tspan><tspan font-style="italic" font-size="6" dy="2">c</tspan><tspan dy="-2">/</tspan><tspan font-style="italic">s</tspan></text>
<text x="277.5" y="247.4" font-size="9" text-anchor="middle"><tspan font-style="italic">x</tspan><tspan font-style="italic" font-size="6" dy="2">c</tspan><tspan dy="-2">/</tspan><tspan font-style="italic">s</tspan></text>
<rect x="54.3" y="87.7" width="36.4" height="18" fill="#fff" stroke="#999" stroke-width="0.7"/>
<text class="lg" x="72.5" y="92.8" font-size="4.5" text-anchor="middle">TLSD: <tspan font-style="italic">s</tspan>/<tspan font-style="italic">d</tspan> = 1.5</text>
<line x1="56.3" y1="96.6" x2="62.8" y2="96.6" stroke="#2626ff" stroke-width="0.45" stroke-dasharray="1 1.2"/>
<path d="M55.9 95.7L57.7 97.5M55.9 97.5L57.7 95.7" stroke="#2626ff" stroke-width="0.7" fill="none"/>
<path d="M61.4 95.7L63.2 97.5M61.4 97.5L63.2 95.7" stroke="#2626ff" stroke-width="0.7" fill="none"/>
<text class="lg" x="66.3" y="98.2" font-size="4.5"><tspan font-style="italic">Re</tspan> = 5×10<tspan font-size="3" dy="-1.6">3</tspan></text>
<line x1="56.3" y1="102" x2="62.8" y2="102" stroke="#2626ff" stroke-width="0.45" stroke-dasharray="1 1.2"/>
<rect x="56.05" y="101.25" width="1.5" height="1.5" fill="#2626ff"/>
<rect x="61.55" y="101.25" width="1.5" height="1.5" fill="#2626ff"/>
<text class="lg" x="66.3" y="103.6" font-size="4.5"><tspan font-style="italic">Re</tspan> = 20×10<tspan font-size="3" dy="-1.6">3</tspan></text>
<rect x="95.8" y="87.8" width="36" height="18" fill="#fff" stroke="#999" stroke-width="0.7"/>
<text class="lg" x="113.8" y="92.9" font-size="4.5" text-anchor="middle">DNS: <tspan font-style="italic">s</tspan>/<tspan font-style="italic">d</tspan> = 1.5</text>
<line x1="97.8" y1="96.7" x2="104.3" y2="96.7" stroke="#ff3030" stroke-width="0.45"/>
<path d="M97.4 95.8L99.2 97.6M97.4 97.6L99.2 95.8" stroke="#ff3030" stroke-width="0.7" fill="none"/>
<path d="M102.9 95.8L104.7 97.6M102.9 97.6L104.7 95.8" stroke="#ff3030" stroke-width="0.7" fill="none"/>
<text class="lg" x="107.8" y="98.3" font-size="4.5"><tspan font-style="italic">Re</tspan> = 5×10<tspan font-size="3" dy="-1.6">3</tspan></text>
<line x1="97.8" y1="102.1" x2="104.3" y2="102.1" stroke="#ff3030" stroke-width="0.45"/>
<rect x="97.55" y="101.35" width="1.5" height="1.5" fill="#ff3030"/>
<rect x="103.05" y="101.35" width="1.5" height="1.5" fill="#ff3030"/>
<text class="lg" x="107.8" y="103.7" font-size="4.5"><tspan font-style="italic">Re</tspan> = 20×10<tspan font-size="3" dy="-1.6">3</tspan></text>
<rect x="136.2" y="88" width="36.8" height="17.8" fill="#fff" stroke="#999" stroke-width="0.7"/>
<text class="lg" x="154.6" y="93.1" font-size="4.5" text-anchor="middle">DOB</text>
<line x1="138.2" y1="96.9" x2="144.7" y2="96.9" stroke="#d4d456" stroke-width="0.45"/>
<path d="M137.8 96L139.6 97.8M137.8 97.8L139.6 96" stroke="#d4d456" stroke-width="0.7" fill="none"/>
<path d="M143.3 96L145.1 97.8M143.3 97.8L145.1 96" stroke="#d4d456" stroke-width="0.7" fill="none"/>
<text class="lg" x="148.2" y="98.5" font-size="4.5"><tspan font-style="italic">Re</tspan> = 5×10<tspan font-size="3" dy="-1.6">3</tspan></text>
<line x1="138.2" y1="102.3" x2="144.7" y2="102.3" stroke="#d4d456" stroke-width="0.45"/>
<rect x="137.95" y="101.55" width="1.5" height="1.5" fill="#d4d456"/>
<rect x="143.45" y="101.55" width="1.5" height="1.5" fill="#d4d456"/>
<text class="lg" x="148.2" y="103.9" font-size="4.5"><tspan font-style="italic">Re</tspan> = 20×10<tspan font-size="3" dy="-1.6">3</tspan></text>
</svg>
</body></html>
